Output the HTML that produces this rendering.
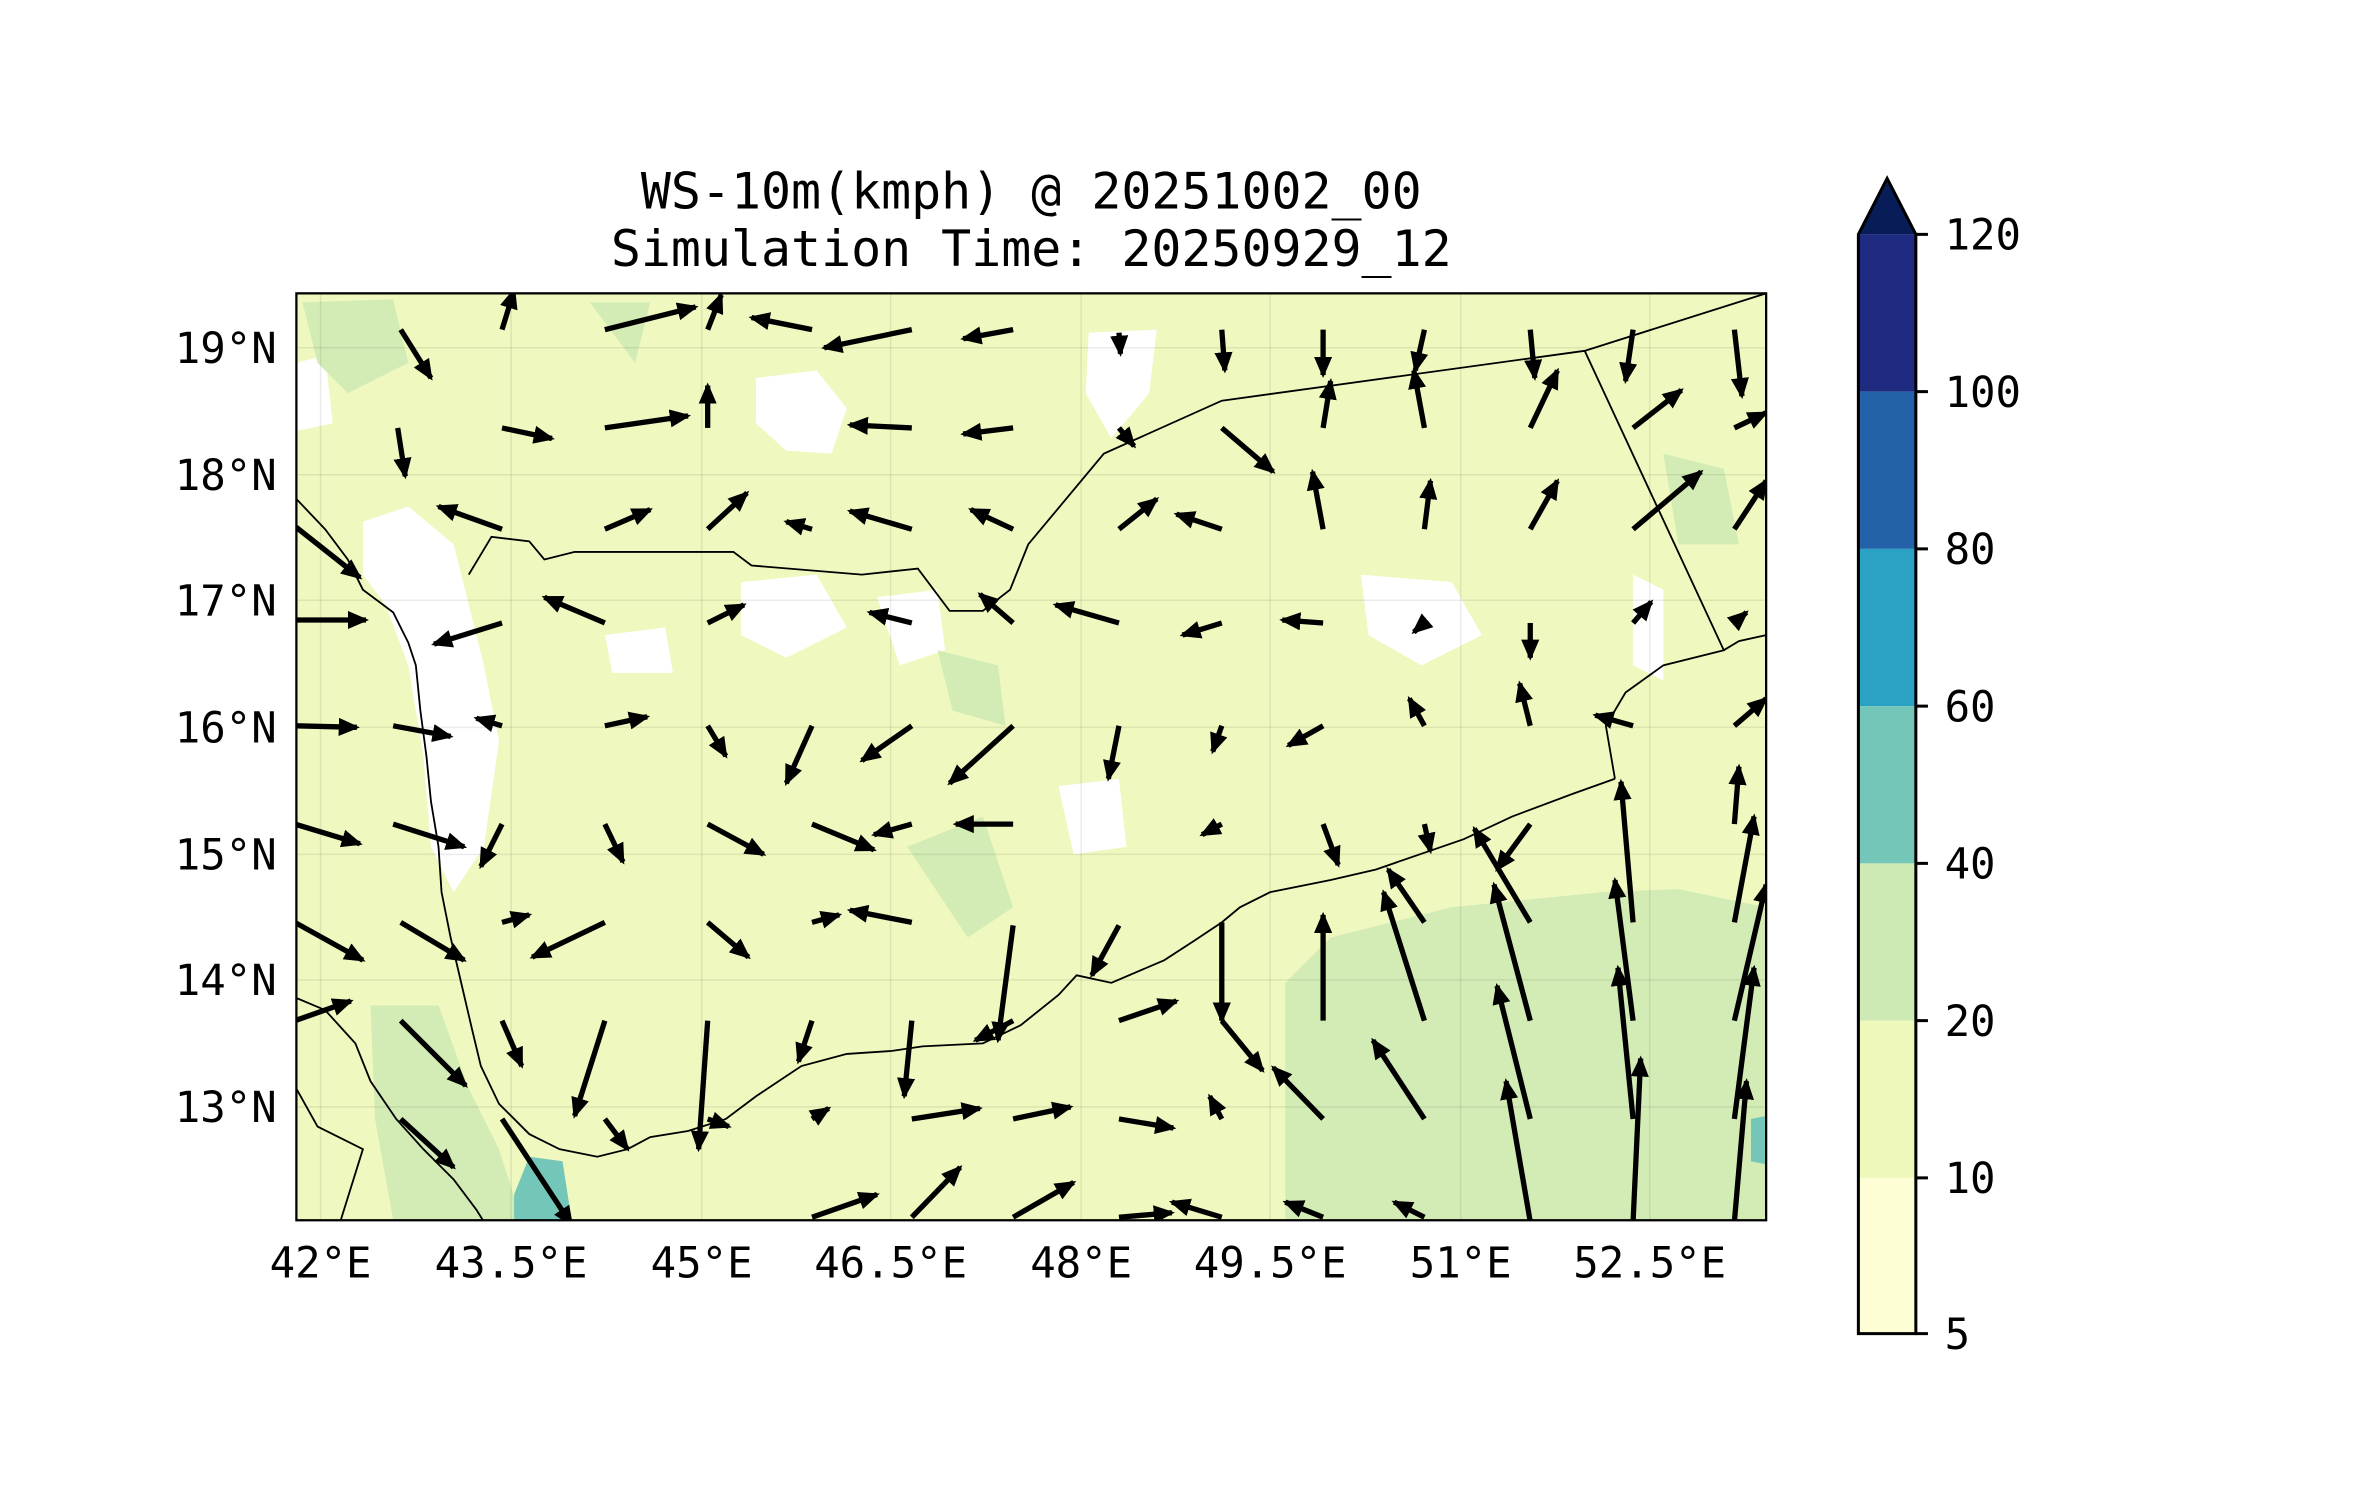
<!DOCTYPE html>
<html><head><meta charset="utf-8"><style>
html,body{margin:0;padding:0;background:#fff;}
svg{display:block;}
text{font-family:"DejaVu Sans Mono","Liberation Mono",monospace;fill:#000;}
</style></head><body>
<svg width="2371" height="1500" viewBox="0 0 1568 992" xmlns="http://www.w3.org/2000/svg">
<defs>
<clipPath id="mc"><rect x="196" y="194" width="972" height="613"/></clipPath>
<marker id="ah" markerWidth="14" markerHeight="12" refX="12" refY="6" orient="auto" markerUnits="userSpaceOnUse">
<path d="M0,0 L14,6 L0,12 Z" fill="#000"/></marker>
</defs>
<text x="682" y="138" font-size="33" text-anchor="middle">WS-10m(kmph) @ 20251002_00</text>
<text x="682" y="176" font-size="33" text-anchor="middle">Simulation Time: 20250929_12</text>
<g clip-path="url(#mc)">
<rect x="196" y="194" width="972" height="613" fill="#eff8bf"/>
<g fill="#ffffff">
<path d="M240,345 L270,335 L300,360 L310,400 L320,440 L330,490 L320,560 L300,590 L285,560 L280,500 L270,440 L255,400 L240,380 Z"/>
<path d="M500,250 L540,245 L560,270 L550,300 L520,298 L500,280 Z"/>
<path d="M720,220 L765,218 L760,260 L735,290 L718,260 Z"/>
<path d="M490,385 L540,380 L560,415 L520,435 L490,420 Z"/>
<path d="M196,240 L215,235 L220,280 L196,285 Z"/>
<path d="M580,395 L620,390 L625,430 L595,440 Z"/>
<path d="M900,380 L960,385 L980,420 L940,440 L905,420 Z"/>
<path d="M1080,380 L1100,390 L1100,450 L1080,440 Z"/>
<path d="M700,520 L740,515 L745,560 L710,565 Z"/>
<path d="M400,420 L440,415 L445,445 L405,445 Z"/>
</g>
<g fill="#d3ecb6">
<path d="M850,807 L850,650 L880,620 L960,600 L1060,590 L1110,588 L1168,600 L1168,807 Z"/>
<path d="M245,665 L290,665 L310,720 L330,760 L345,807 L260,807 L248,740 Z"/>
<path d="M200,200 L260,198 L270,240 L230,260 L210,240 Z"/>
<path d="M620,430 L660,440 L665,480 L630,470 Z"/>
<path d="M600,560 L650,540 L670,600 L640,620 Z"/>
<path d="M1100,300 L1140,310 L1150,360 L1110,360 Z"/>
<path d="M390,200 L430,200 L420,240 Z"/>
</g>
<path d="M340,790 L350,765 L372,768 L378,807 L340,807 Z" fill="#74c6b8"/>
<path d="M1158,740 L1168,738 L1168,770 L1158,768 Z" fill="#74c6b8"/>
<g stroke="#000" stroke-opacity="0.08" stroke-width="1">
<path d="M212,194V807M338,194V807M464,194V807M589,194V807M715,194V807M840,194V807M966,194V807M1091,194V807"/>
<path d="M196,230H1168M196,314H1168M196,397H1168M196,481H1168M196,565H1168M196,648H1168M196,732H1168"/>
</g>
<g fill="none" stroke="#000" stroke-width="1.2">
<path d="M310,380 L325,355 L350,358 L360,370 L380,365 L485,365 L497,374 L570,380 L607,376 L628,404 L650,404 L668,390 L680,360 L730,300 L808,265 L1048,232 L1168,194"/>
<path d="M1048,232 L1140,430 L1100,440 L1075,458 L1062,480 L1068,515"/>
<path d="M1068,515 L1040,525 L1000,540 L968,555 L910,575 L880,582 L840,590 L820,600 L808,610 L790,622 L770,635 L735,650 L712,645 L700,658 L675,678 L650,690 L610,692 L590,695 L560,697 L530,705 L515,715 L500,725 L480,740 L455,748 L430,752 L415,760 L395,765 L370,760 L350,750 L330,730 L318,705 L312,680 L305,650 L298,620 L292,590 L290,560 L285,530 L282,500 L278,470 L275,440 L270,425 L260,405 L240,390 L230,370 L215,350 L196,330"/>
<path d="M196,660 L215,668 L235,690 L245,715 L262,740 L280,760 L300,780 L315,800 L320,808"/>
<path d="M196,720 L210,745 L240,760 L225,808"/>
<path d="M1168,420 L1150,424 L1140,430"/>
</g>
<g stroke="#000" stroke-width="3.5" marker-end="url(#ah)">
<line x1="265" y1="218" x2="285" y2="250"/><line x1="332" y1="218" x2="340" y2="192"/><line x1="400" y1="218" x2="460" y2="203"/><line x1="468" y1="218" x2="477" y2="195"/><line x1="537" y1="218" x2="497" y2="210"/><line x1="603" y1="218" x2="545" y2="230"/><line x1="670" y1="218" x2="637" y2="224"/><line x1="740" y1="220" x2="741" y2="234"/><line x1="808" y1="218" x2="810" y2="245"/><line x1="875" y1="218" x2="875" y2="248"/><line x1="942" y1="218" x2="936" y2="245"/><line x1="1012" y1="218" x2="1015" y2="250"/><line x1="1080" y1="218" x2="1075" y2="252"/><line x1="1147" y1="218" x2="1152" y2="262"/>
<line x1="263" y1="283" x2="268" y2="315"/><line x1="332" y1="283" x2="365" y2="290"/><line x1="400" y1="283" x2="455" y2="275"/><line x1="468" y1="283" x2="468" y2="255"/><line x1="603" y1="283" x2="562" y2="281"/><line x1="670" y1="283" x2="637" y2="287"/><line x1="740" y1="283" x2="750" y2="295"/><line x1="808" y1="283" x2="842" y2="312"/><line x1="875" y1="283" x2="880" y2="252"/><line x1="942" y1="283" x2="935" y2="245"/><line x1="1012" y1="283" x2="1030" y2="245"/><line x1="1080" y1="283" x2="1112" y2="258"/><line x1="1147" y1="283" x2="1168" y2="273"/>
<line x1="195" y1="348" x2="238" y2="382"/><line x1="332" y1="350" x2="290" y2="335"/><line x1="400" y1="350" x2="430" y2="337"/><line x1="468" y1="350" x2="494" y2="326"/><line x1="537" y1="350" x2="520" y2="345"/><line x1="603" y1="350" x2="562" y2="338"/><line x1="670" y1="350" x2="642" y2="337"/><line x1="740" y1="350" x2="765" y2="330"/><line x1="808" y1="350" x2="778" y2="340"/><line x1="875" y1="350" x2="868" y2="312"/><line x1="942" y1="350" x2="946" y2="318"/><line x1="1012" y1="350" x2="1030" y2="318"/><line x1="1080" y1="350" x2="1125" y2="312"/><line x1="1147" y1="350" x2="1168" y2="318"/>
<line x1="195" y1="410" x2="242" y2="410"/><line x1="332" y1="412" x2="287" y2="426"/><line x1="400" y1="412" x2="360" y2="395"/><line x1="468" y1="412" x2="492" y2="400"/><line x1="603" y1="412" x2="575" y2="405"/><line x1="670" y1="412" x2="648" y2="393"/><line x1="740" y1="412" x2="698" y2="400"/><line x1="808" y1="412" x2="782" y2="420"/><line x1="875" y1="412" x2="848" y2="410"/><line x1="942" y1="412" x2="935" y2="418"/><line x1="1012" y1="412" x2="1012" y2="435"/><line x1="1080" y1="412" x2="1092" y2="398"/><line x1="1147" y1="412" x2="1155" y2="405"/>
<line x1="195" y1="480" x2="236" y2="481"/><line x1="260" y1="480" x2="298" y2="487"/><line x1="332" y1="480" x2="315" y2="475"/><line x1="400" y1="480" x2="428" y2="474"/><line x1="468" y1="480" x2="480" y2="500"/><line x1="537" y1="480" x2="520" y2="518"/><line x1="603" y1="480" x2="570" y2="503"/><line x1="670" y1="480" x2="628" y2="518"/><line x1="740" y1="480" x2="733" y2="515"/><line x1="808" y1="480" x2="802" y2="497"/><line x1="875" y1="480" x2="852" y2="493"/><line x1="942" y1="480" x2="932" y2="462"/><line x1="1012" y1="480" x2="1005" y2="452"/><line x1="1080" y1="480" x2="1055" y2="473"/><line x1="1147" y1="480" x2="1168" y2="462"/>
<line x1="195" y1="545" x2="238" y2="558"/><line x1="260" y1="545" x2="307" y2="560"/><line x1="332" y1="545" x2="318" y2="573"/><line x1="400" y1="545" x2="412" y2="570"/><line x1="468" y1="545" x2="505" y2="565"/><line x1="537" y1="545" x2="578" y2="562"/><line x1="603" y1="545" x2="578" y2="552"/><line x1="670" y1="545" x2="632" y2="545"/><line x1="808" y1="545" x2="795" y2="552"/><line x1="875" y1="545" x2="885" y2="572"/><line x1="942" y1="545" x2="946" y2="563"/><line x1="1012" y1="545" x2="990" y2="575"/><line x1="1080" y1="610" x2="1072" y2="517"/><line x1="1147" y1="545" x2="1150" y2="507"/>
<line x1="195" y1="610" x2="240" y2="635"/><line x1="265" y1="610" x2="307" y2="635"/><line x1="332" y1="610" x2="350" y2="605"/><line x1="400" y1="610" x2="352" y2="633"/><line x1="468" y1="610" x2="495" y2="633"/><line x1="537" y1="610" x2="555" y2="605"/><line x1="603" y1="610" x2="562" y2="602"/><line x1="670" y1="612" x2="660" y2="688"/><line x1="740" y1="612" x2="722" y2="645"/><line x1="808" y1="610" x2="808" y2="675"/><line x1="875" y1="675" x2="875" y2="605"/><line x1="942" y1="675" x2="915" y2="590"/><line x1="942" y1="610" x2="918" y2="575"/><line x1="1012" y1="610" x2="975" y2="548"/><line x1="1012" y1="675" x2="988" y2="585"/><line x1="1080" y1="675" x2="1068" y2="582"/><line x1="1147" y1="610" x2="1160" y2="540"/><line x1="1147" y1="675" x2="1168" y2="585"/>
<line x1="195" y1="675" x2="232" y2="662"/><line x1="265" y1="675" x2="308" y2="718"/><line x1="332" y1="675" x2="345" y2="705"/><line x1="400" y1="675" x2="380" y2="738"/><line x1="468" y1="675" x2="462" y2="760"/><line x1="537" y1="675" x2="528" y2="702"/><line x1="603" y1="675" x2="598" y2="725"/><line x1="670" y1="675" x2="645" y2="688"/><line x1="740" y1="675" x2="778" y2="662"/><line x1="808" y1="675" x2="835" y2="708"/><line x1="875" y1="740" x2="842" y2="706"/><line x1="942" y1="740" x2="908" y2="688"/><line x1="1012" y1="740" x2="990" y2="652"/><line x1="1080" y1="740" x2="1070" y2="640"/><line x1="1147" y1="740" x2="1160" y2="640"/>
<line x1="265" y1="740" x2="300" y2="772"/><line x1="332" y1="740" x2="378" y2="810"/><line x1="400" y1="740" x2="415" y2="760"/><line x1="468" y1="740" x2="482" y2="745"/><line x1="537" y1="740" x2="548" y2="733"/><line x1="603" y1="740" x2="648" y2="733"/><line x1="670" y1="740" x2="708" y2="732"/><line x1="740" y1="740" x2="776" y2="746"/><line x1="808" y1="740" x2="800" y2="725"/><line x1="1012" y1="808" x2="996" y2="715"/><line x1="1080" y1="808" x2="1085" y2="700"/><line x1="1147" y1="808" x2="1155" y2="715"/>
<line x1="537" y1="805" x2="580" y2="790"/><line x1="603" y1="805" x2="635" y2="772"/><line x1="670" y1="805" x2="710" y2="782"/><line x1="740" y1="805" x2="775" y2="802"/><line x1="808" y1="805" x2="775" y2="795"/><line x1="875" y1="805" x2="850" y2="795"/><line x1="942" y1="805" x2="922" y2="795"/>
</g>
</g>
<rect x="196" y="194" width="972" height="613" fill="none" stroke="#000" stroke-width="1.5"/>
<g font-size="28">
<g text-anchor="middle">
<text x="212" y="845">42°E</text><text x="338" y="845">43.5°E</text><text x="464" y="845">45°E</text><text x="589" y="845">46.5°E</text><text x="715" y="845">48°E</text><text x="840" y="845">49.5°E</text><text x="966" y="845">51°E</text><text x="1091" y="845">52.5°E</text>
</g>
<g text-anchor="end">
<text x="183" y="240">19°N</text><text x="183" y="324">18°N</text><text x="183" y="407">17°N</text><text x="183" y="491">16°N</text><text x="183" y="575">15°N</text><text x="183" y="658">14°N</text><text x="183" y="742">13°N</text>
</g>
</g>
<g>
<path d="M1229,155 L1248,118 L1267,155 Z" fill="#081d58"/>
<rect x="1229" y="155" width="38" height="104" fill="#1e2b80"/>
<rect x="1229" y="259" width="38" height="104" fill="#2362a9"/>
<rect x="1229" y="363" width="38" height="104" fill="#2ba2c3"/>
<rect x="1229" y="467" width="38" height="104" fill="#74c6b8"/>
<rect x="1229" y="571" width="38" height="104" fill="#cdeab5"/>
<rect x="1229" y="675" width="38" height="104" fill="#eef8ba"/>
<rect x="1229" y="779" width="38" height="103" fill="#fdfed5"/>
<path d="M1229,882 L1229,155 L1248,118 L1267,155 L1267,882 Z" fill="none" stroke="#000" stroke-width="2"/>
<g stroke="#000" stroke-width="2"><path d="M1267,155h8M1267,259h8M1267,363h8M1267,467h8M1267,571h8M1267,675h8M1267,779h8M1267,882h8"/></g>
<g font-size="28">
<text x="1286" y="165">120</text><text x="1286" y="269">100</text><text x="1286" y="373">80</text><text x="1286" y="477">60</text><text x="1286" y="581">40</text><text x="1286" y="685">20</text><text x="1286" y="789">10</text><text x="1286" y="892">5</text>
</g>
</g>
</svg>
</body></html>
